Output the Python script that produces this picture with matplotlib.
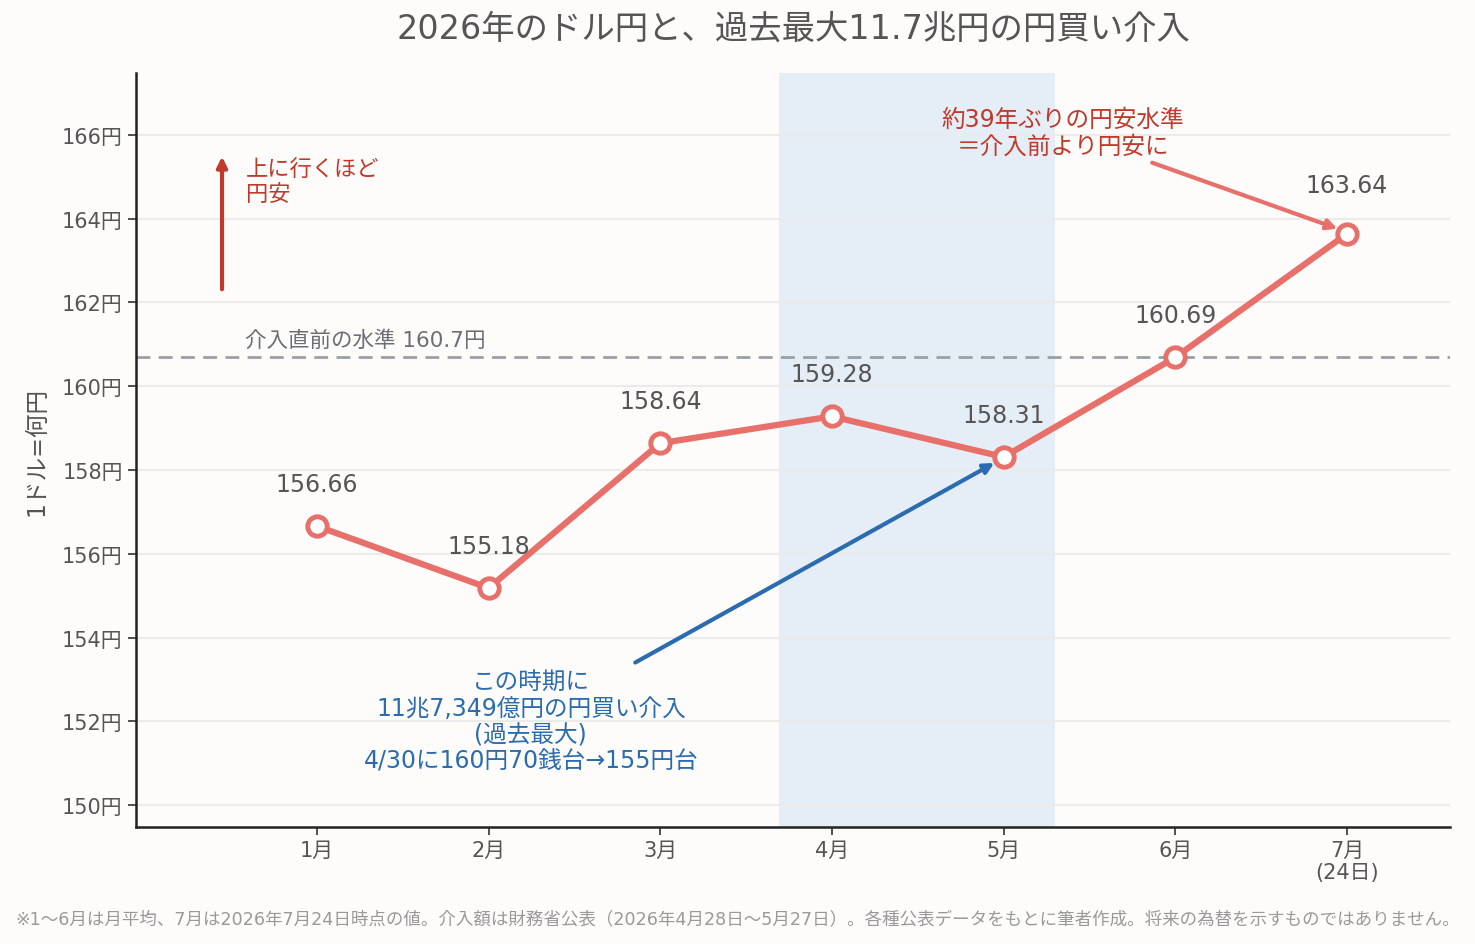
import numpy as np
import matplotlib
matplotlib.use("Agg")
import matplotlib.pyplot as plt

plt.rcParams['font.family'] = ['DejaVu Sans', 'Noto Sans CJK JP']

# data
months = ['1月', '2月', '3月', '4月', '5月', '6月', '7月\n(24日)']
rates = [156.66, 155.18, 158.64, 159.28, 158.31, 160.69, 163.64]
pre_level = 160.7
yticks = np.arange(150, 167, 2)

bg = '#fdfcfb'
red = '#e8706a'
dark_red = '#c0392b'
blue = '#2b6cb0'
gray_txt = '#555555'

fig = plt.figure(figsize=(14.75, 9.45), dpi=100, facecolor=bg)
ax = fig.add_axes([136/1475, 1-828/945, (1450-136)/1475, (828-74)/945])
ax.set_facecolor(bg)

x = np.arange(len(months))

# intervention period shading
ax.axvspan(2.69, 4.30, color='#dbe8f5', alpha=0.7, lw=0, zorder=0)

ax.axhline(pre_level, color='#9aa0a6', ls='--', lw=2, dashes=(5, 3), zorder=1)
ax.text(-0.42, 160.86, '介入直前の水準 160.7円', color='#6b6f75', fontsize=15.5,
        ha='left', va='bottom')

ax.plot(x, rates, color=red, lw=4.5, marker='o', ms=14, mfc='white',
        mec=red, mew=3.5, zorder=3)
for i, (xi, v) in enumerate(zip(x, rates)):
    off = 30 if i == len(rates) - 1 else 25.5
    ax.annotate(f'{v:.2f}', (xi, v), xytext=(0, off), textcoords='offset points',
                ha='center', va='baseline', fontsize=17, color=gray_txt)

ax.set_xlim(-1.054, 6.6)
ax.set_ylim(149.475, 167.48)
ax.set_xticks(x)
ax.set_xticklabels(months, fontsize=15, color=gray_txt, linespacing=1.1)
ax.set_yticks(yticks)
ax.set_yticklabels([f'{t}円' for t in yticks], fontsize=15, color=gray_txt)
ax.tick_params(axis='both', length=6, width=1.2, color='#333333')
ax.set_ylabel('1ドル=何円', fontsize=17, color=gray_txt, labelpad=10)
ax.grid(axis='y', color='#ebebeb', lw=1.5, zorder=0)
ax.set_axisbelow(True)
for s in ['top', 'right']:
    ax.spines[s].set_visible(False)
for s in ['left', 'bottom']:
    ax.spines[s].set_color('#222222')
    ax.spines[s].set_linewidth(1.8)

# up arrow note
ax.annotate('', xy=(-0.553, 165.55), xytext=(-0.553, 162.25),
            arrowprops=dict(arrowstyle='-|>', color=dark_red, lw=3,
                            mutation_scale=15))
ax.text(-0.413, 165.43, '上に行くほど\n円安', color=dark_red, fontsize=16,
        ha='left', va='top', linespacing=1.2)

# blue note
ax.annotate('', xy=(3.96, 158.2), xytext=(1.84, 153.37),
            arrowprops=dict(arrowstyle='-|>', color=blue, lw=3,
                            mutation_scale=15))
ax.text(1.246, 152.0, 'この時期に\n11兆7,349億円の円買い介入\n(過去最大)\n4/30に160円70銭台→155円台',
        color=blue, fontsize=17, ha='center', va='center', linespacing=1.12)

# red note
ax.annotate('', xy=(5.96, 163.74), xytext=(4.85, 165.36),
            arrowprops=dict(arrowstyle='-|>', color=red, lw=3,
                            mutation_scale=15))
ax.text(4.345, 166.68, '約39年ぶりの円安水準\n＝介入前より円安に', color=dark_red,
        fontsize=17, ha='center', va='top', linespacing=1.15)

fig.text(793/1475, 0.969, '2026年のドル円と、過去最大11.7兆円の円買い介入',
         ha='center', va='center', fontsize=24, color=gray_txt)
fig.text(0.5, 0.027, '※1〜6月は月平均、7月は2026年7月24日時点の値。介入額は財務省公表（2026年4月28日〜5月27日）。各種公表データをもとに筆者作成。将来の為替を示すものではありません。',
         ha='center', va='center', fontsize=12.6, color='#999999')

fig.savefig('out.png', dpi=100, facecolor=bg)
